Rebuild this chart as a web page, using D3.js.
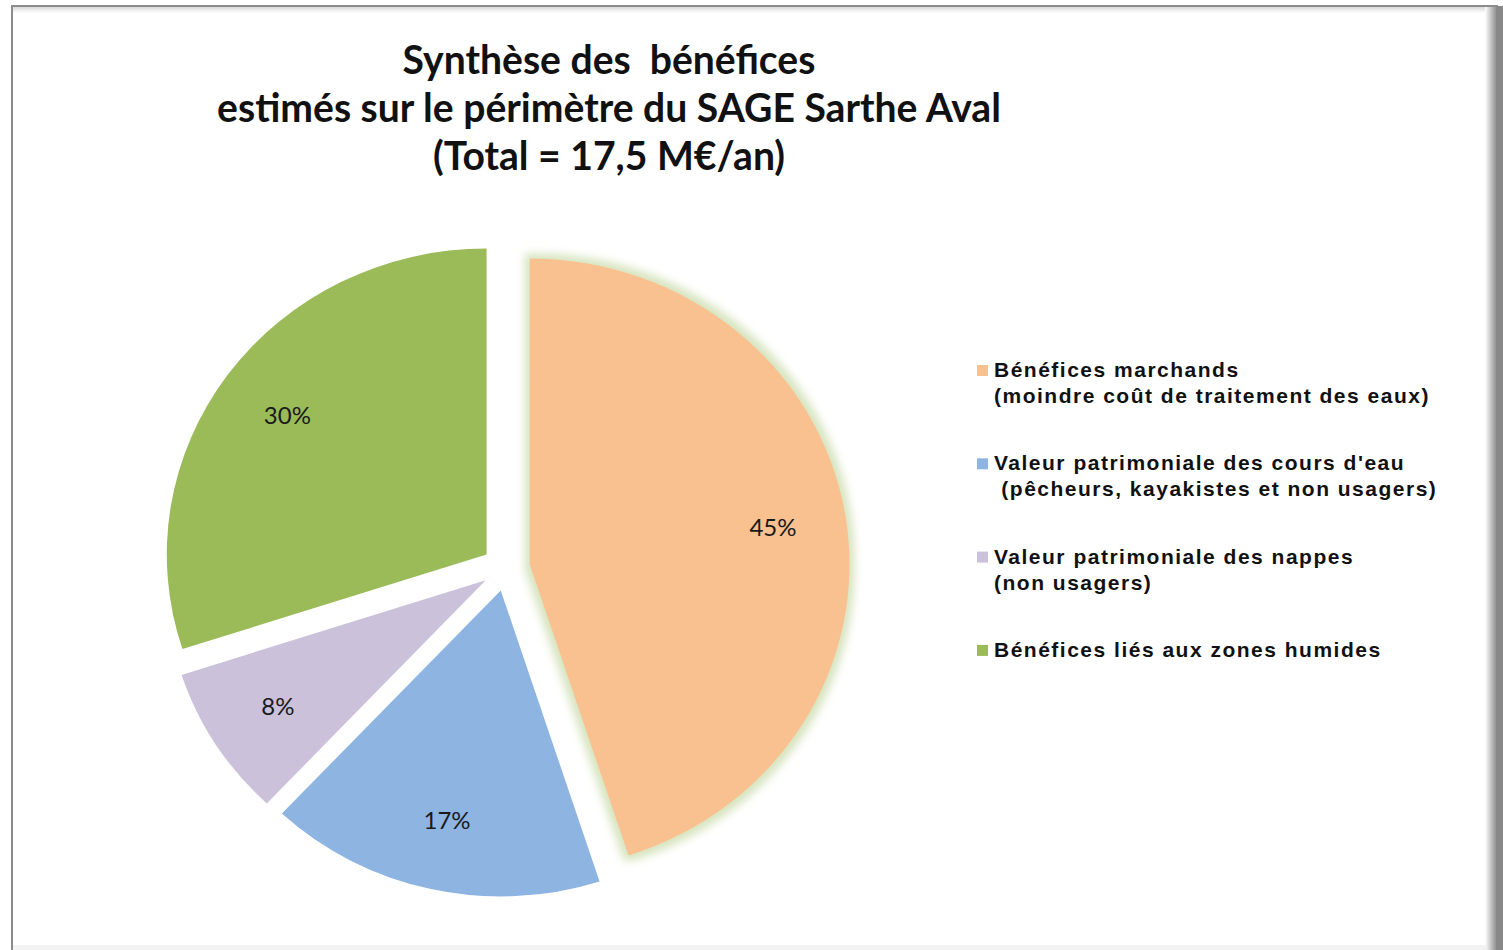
<!DOCTYPE html>
<html>
<head>
<meta charset="utf-8">
<script src="https://cdn.jsdelivr.net/npm/d3@7"></script>
<style>
  body { margin: 0; background: #fff; }
  svg { display: block; }
  text { white-space: pre; }
</style>
</head>
<body>
<svg id="chart" width="1503" height="950"></svg>
<script>
// data
const titleLines = ['Synthèse des  bénéfices', 'estimés sur le périmètre du SAGE Sarthe Aval', '(Total = 17,5 M€/an)']
const categories = [
  ['Bénéfices marchands', '(moindre coût de traitement des eaux)'],
  ['Valeur patrimoniale des cours d\'eau', ' (pêcheurs, kayakistes et non usagers)'],
  ['Valeur patrimoniale des nappes', '(non usagers)'],
  ['Bénéfices liés aux zones humides']
]
const shares = [45, 17, 8, 30]
const colors = ['#f9c18f', '#8eb4e2', '#cbc1da', '#9bbb59']

const svg = d3.select('#chart')
const width = +svg.attr('width')
const height = +svg.attr('height')

// frame + shadow
const defs = svg.append('defs')
const gradR = defs.append('linearGradient').attr('id', 'shadowRight')
gradR.append('stop').attr('offset', '0%').attr('stop-color', '#ffffff')
gradR.append('stop').attr('offset', '100%').attr('stop-color', '#888888')
const gradT = defs.append('linearGradient').attr('id', 'shadowTop')
  .attr('x1', 0).attr('y1', 0).attr('x2', 0).attr('y2', 1)
gradT.append('stop').attr('offset', '0%').attr('stop-color', '#d8d8d8')
gradT.append('stop').attr('offset', '100%').attr('stop-color', '#ffffff')

svg.append('rect').attr('x', 12).attr('y', 7).attr('width', 1476).attr('height', 6)
  .attr('fill', 'url(#shadowTop)')
svg.append('rect').attr('x', 1485).attr('y', 6).attr('width', 12).attr('height', height - 6)
  .attr('fill', 'url(#shadowRight)')
svg.append('rect').attr('x', 1496).attr('y', 6).attr('width', 7).attr('height', height - 6)
  .attr('fill', '#888888')
svg.append('rect').attr('x', 11).attr('y', 5).attr('width', 1487).attr('height', 2)
  .attr('fill', '#8c8c8c')
svg.append('rect').attr('x', 11).attr('y', 5).attr('width', 2).attr('height', height - 5)
  .attr('fill', '#8c8c8c')
svg.append('rect').attr('x', 13).attr('y', 945).attr('width', 1473).attr('height', 5)
  .attr('fill', '#f3f3f3')

// glow round the big slice
const glow = defs.append('filter').attr('id', 'glow')
  .attr('x', '-20%').attr('y', '-20%').attr('width', '140%').attr('height', '140%')
glow.append('feMorphology').attr('in', 'SourceAlpha').attr('operator', 'dilate').attr('radius', 5).attr('result', 'fat')
glow.append('feGaussianBlur').attr('in', 'fat').attr('stdDeviation', 4).attr('result', 'blur')
glow.append('feFlood').attr('flood-color', '#d3e1b8').attr('flood-opacity', 0.9)
glow.append('feComposite').attr('in2', 'blur').attr('operator', 'in').attr('result', 'halo')
const gm = glow.append('feMerge')
gm.append('feMergeNode').attr('in', 'halo')
gm.append('feMergeNode').attr('in', 'SourceGraphic')

// title
const title = svg.append('g').attr('class', 'title')
  .style('font-family', 'Lato, "Noto Sans", sans-serif')
  .style('font-weight', 700)
  .attr('fill', '#111')
const titleY = d3.scaleLinear().domain([0, 1]).range([74, 122])
let titleSize = 35
title.selectAll('text')
  .data(titleLines)
  .enter()
  .append('text')
  .attr('x', 609)
  .attr('y', (d, i) => titleY(i))
  .attr('text-anchor', 'middle')
  .style('font-size', titleSize + 'px')
  .text(d => d)
// fit longest line to width seen in the picture
const w2 = title.selectAll('text').nodes()[1].getComputedTextLength()
titleSize = titleSize * 784 / w2
title.selectAll('text').style('font-size', titleSize + 'px')

// pie
const cx = 506, cy = 568, r = 306, explode = 23, stretch = 1.045
const pie = d3.pie().sort(null).value(d => d)
const arcs = pie(shares)
const arc = d3.arc().innerRadius(0).outerRadius(r)
const mid = d => (d.startAngle + d.endAngle) / 2

const pieG = svg.append('g')
  .attr('transform', 'translate(' + cx + ',' + cy + ') scale(' + stretch + ',1)')

pieG.selectAll('path.slice')
  .data(arcs)
  .enter()
  .append('path')
  .attr('class', 'slice')
  .attr('d', arc)
  .attr('fill', (d, i) => colors[i])
  .attr('filter', (d, i) => i === 0 ? 'url(#glow)' : null)
  .attr('transform', d => 'translate(' + (Math.sin(mid(d)) * explode) + ',' + (-Math.cos(mid(d)) * explode) + ')')

// data labels
const labelR = r * 0.77 + explode
svg.append('g')
  .selectAll('text')
  .data(arcs)
  .enter()
  .append('text')
  .attr('x', d => cx + Math.sin(mid(d)) * labelR * stretch)
  .attr('y', d => cy - Math.cos(mid(d)) * labelR)
  .attr('dy', '0.35em')
  .attr('text-anchor', 'middle')
  .style('font-family', 'Lato, "Noto Sans", sans-serif')
  .style('font-size', '24px')
  .attr('fill', '#1a1a1a')
  .text(d => d.data + '%')

// legend
const legendY = d3.scaleLinear().domain([0, 1]).range([377, 470.3])
const legend = svg.append('g')
  .style('font-family', '"Liberation Sans", Arial, sans-serif')
  .style('font-weight', 700)
  .style('font-size', '21px')
  .style('letter-spacing', '1.5px')
  .attr('fill', '#111')

const item = legend.selectAll('g.item')
  .data(categories)
  .enter()
  .append('g')
  .attr('class', 'item')
  .attr('transform', (d, i) => 'translate(977,' + legendY(i) + ')')

item.append('rect')
  .attr('x', 0).attr('y', -12)
  .attr('width', 11).attr('height', 11)
  .attr('fill', (d, i) => colors[i])

item.selectAll('text')
  .data(d => d)
  .enter()
  .append('text')
  .attr('x', 17)
  .attr('y', (d, j) => j * 26)
  .text(d => d)
</script>
</body>
</html>
